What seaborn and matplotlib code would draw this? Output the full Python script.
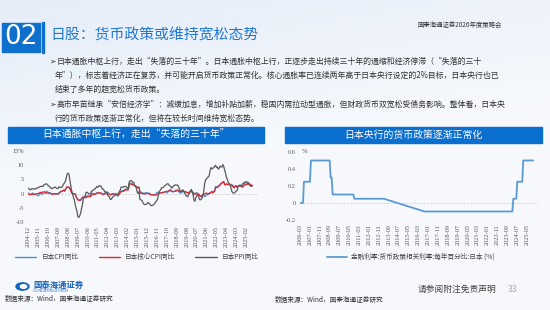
import numpy as np
import pandas as pd
import matplotlib
matplotlib.use('Agg')
import matplotlib.pyplot as plt
from matplotlib.patches import Rectangle, Circle
from matplotlib.lines import Line2D
import seaborn as sns

# ---- data: Japan CPI / core CPI / PPI yoy (%), monthly from 2004-12 ----
cpi = [0.2,
       -0.1, -0.3, -0.2, 0.0, 0.2, -0.5, -0.3, -0.3, -0.3, -0.7, -0.8, -0.4,
       -0.1, -0.1, -0.2, -0.1, 0.1, 0.5, 0.3, 0.9, 0.6, 0.4, 0.3, 0.3,
       0.0, -0.2, -0.1, 0.0, 0.0, -0.2, 0.0, -0.2, -0.2, 0.3, 0.6, 0.7,
       0.7, 1.0, 1.2, 0.8, 1.3, 2.0, 2.3, 2.1, 2.1, 1.7, 1.0, 0.4,
       0.0, -0.1, -0.3, -0.1, -1.1, -1.8, -2.2, -2.2, -2.2, -2.5, -1.9, -1.7,
       -1.3, -1.1, -1.1, -1.2, -0.9, -0.7, -0.9, -0.9, -0.6, 0.2, 0.1, 0.0,
       0.0, 0.0, 0.0, 0.3, 0.3, 0.2, 0.2, 0.2, 0.0, -0.2, -0.5, -0.2,
       0.1, 0.3, 0.5, 0.4, 0.2, -0.2, -0.4, -0.5, -0.3, -0.4, -0.2, -0.1,
       -0.3, -0.7, -0.9, -0.7, -0.3, 0.2, 0.7, 0.9, 1.1, 1.1, 1.5, 1.6,
       1.4, 1.5, 1.6, 3.4, 3.7, 3.6, 3.4, 3.3, 3.2, 2.9, 2.4, 2.4,
       2.4, 2.2, 2.3, 0.6, 0.5, 0.4, 0.2, 0.2, 0.0, 0.3, 0.3, 0.2,
       0.0, 0.3, -0.1, -0.3, -0.5, -0.4, -0.4, -0.5, -0.5, 0.1, 0.5, 0.3,
       0.4, 0.3, 0.2, 0.4, 0.4, 0.4, 0.4, 0.7, 0.7, 0.2, 0.6, 1.0,
       1.4, 1.5, 1.1, 0.6, 0.7, 0.7, 0.9, 1.3, 1.2, 1.4, 0.8, 0.3,
       0.2, 0.2, 0.5, 0.9, 0.7, 0.7, 0.5, 0.3, 0.2, 0.2, 0.5, 0.8,
       0.7, 0.4, 0.4, 0.1, 0.1, 0.1, 0.3, 0.2, 0.0, -0.4, -0.9, -1.2,
       -0.6, -0.4, -0.2, -1.1, -0.8, -0.5, -0.3, -0.4, 0.2, 0.1, 0.6, 0.8,
       0.5, 0.9, 1.2, 2.5, 2.5, 2.4, 2.6, 3.0, 3.0, 3.7, 3.8, 4.0,
       4.3, 3.3, 3.2, 3.5, 3.2, 3.3, 3.3, 3.2, 3.0, 3.3, 2.8, 2.6,
       2.2, 2.8, 2.7, 2.5, 2.8, 2.8, 2.8, 3.0, 2.5, 2.3, 2.9, 3.6,
       4.0, 3.7, 3.6, 3.6, 3.5, 3.3, 3.1, 2.7, 2.9]

core_cpi = [-0.2,
            -0.3, -0.4, -0.3, -0.2, 0.0, -0.2, -0.2, -0.1, -0.1, 0.0, 0.1, 0.1,
            0.5, 0.1, 0.5, 0.5, 0.6, 0.6, 0.2, 0.3, 0.2, 0.1, 0.2, 0.1,
            0.0, -0.1, -0.3, -0.1, -0.1, -0.1, -0.1, -0.1, -0.1, 0.1, 0.4, 0.8,
            0.8, 1.0, 1.2, 0.9, 1.5, 1.9, 2.4, 2.4, 2.3, 1.9, 1.0, 0.2,
            0.0, 0.0, -0.1, -0.1, -1.1, -1.7, -2.2, -2.4, -2.3, -2.2, -1.7, -1.3,
            -1.2, -1.2, -1.2, -1.5, -1.2, -1.0, -1.1, -1.0, -1.1, -0.6, -0.5, -0.4,
            -0.2, -0.3, -0.1, 0.1, 0.3, 0.3, 0.2, 0.2, 0.2, -0.1, -0.2, -0.1,
            -0.1, 0.1, 0.2, 0.2, -0.1, -0.2, -0.3, -0.3, -0.1, 0.0, -0.1, -0.2,
            -0.2, -0.3, -0.5, -0.4, 0.0, 0.4, 0.7, 0.8, 0.7, 0.9, 1.2, 1.3,
            1.3, 1.3, 1.3, 3.2, 3.4, 3.3, 3.3, 3.1, 3.0, 2.9, 2.7, 2.5,
            2.2, 2.0, 2.2, 0.3, 0.1, 0.1, 0.0, -0.1, -0.1, -0.1, 0.1, 0.1,
            0.0, 0.0, -0.3, -0.3, -0.4, -0.4, -0.5, -0.5, -0.5, -0.4, -0.4, -0.2,
            0.1, 0.2, 0.2, 0.3, 0.4, 0.4, 0.5, 0.7, 0.7, 0.8, 0.9, 0.9,
            0.9, 1.0, 0.9, 0.7, 0.7, 0.8, 0.8, 0.9, 1.0, 1.0, 0.9, 0.7,
            0.8, 0.7, 0.8, 0.9, 0.8, 0.6, 0.6, 0.5, 0.3, 0.4, 0.5, 0.7,
            0.8, 0.6, 0.4, -0.2, -0.2, 0.0, 0.0, -0.4, -0.3, -0.7, -0.9, -1.0,
            -0.6, -0.4, -0.1, -0.1, 0.1, 0.2, -0.2, 0.0, 0.1, 0.1, 0.5, 0.5,
            0.2, 0.6, 0.8, 2.1, 2.1, 2.2, 2.4, 2.8, 3.0, 3.6, 3.7, 4.0,
            4.2, 3.1, 3.1, 3.4, 3.2, 3.3, 3.1, 3.1, 2.8, 2.9, 2.5, 2.3,
            2.0, 2.8, 2.6, 2.2, 2.5, 2.6, 2.7, 2.8, 2.4, 2.3, 2.7, 3.0,
            3.2, 3.0, 3.2, 3.5, 3.7, 3.3, 3.1, 2.7, 2.9]

ppi = [1.9,
       1.5, 1.3, 1.6, 1.8, 1.7, 1.5, 1.7, 1.6, 2.0, 2.0, 2.1, 2.3,
       2.5, 2.5, 2.6, 2.5, 3.0, 3.2, 3.4, 3.4, 3.3, 2.8, 2.6, 2.3,
       1.9, 1.7, 1.9, 2.1, 2.2, 2.3, 1.9, 1.8, 1.8, 2.4, 2.3, 2.1,
       2.3, 2.7, 3.4, 3.7, 4.3, 5.4, 7.0, 7.2, 6.8, 4.8, 2.8, 1.1,
       -0.2, -1.4, -2.2, -3.9, -5.1, -6.4, -8.2, -8.4, -7.8, -6.9, -5.2, -3.9,
       -1.8, -1.2, -0.9, 0.4, 0.5, 0.3, -0.1, -0.1, -0.1, 0.9, 0.9, 1.2,
       1.6, 1.7, 2.0, 2.5, 2.2, 2.5, 2.9, 2.6, 2.5, 1.6, 1.6, 1.2,
       0.5, 0.6, 0.6, -0.6, -0.9, -1.1, -2.1, -2.0, -1.5, -1.1, -0.9, -0.6,
       -0.3, -0.1, -0.5, 0.2, 0.7, 1.2, 2.3, 2.3, 2.2, 2.5, 2.5, 2.5,
       2.4, 1.8, 1.7, 4.1, 4.5, 4.6, 4.3, 3.9, 4.0, 2.8, 2.6, 1.9,
       0.3, 0.1, 0.7, -2.1, -2.2, -2.4, -3.0, -3.6, -3.9, -3.8, -3.7, -3.6,
       -3.1, -3.4, -3.8, -4.2, -4.2, -4.2, -3.9, -3.6, -3.2, -2.7, -2.3, -1.2,
       0.5, 1.0, 1.4, 2.1, 2.1, 2.2, 2.6, 2.9, 3.1, 3.4, 3.5, 3.1,
       2.7, 2.6, 2.1, 2.0, 2.7, 2.8, 3.1, 3.0, 3.0, 3.0, 2.3, 1.5,
       0.6, 0.8, 1.3, 1.2, 0.7, -0.1, -0.6, -0.9, -1.1, -0.4, 0.1, 0.9,
       1.5, 0.8, -0.4, -2.3, -2.7, -1.6, -0.8, -0.5, -0.8, -2.1, -2.2, -2.0,
       -1.6, -0.6, 1.2, 3.8, 4.9, 5.2, 5.7, 5.8, 6.5, 8.3, 9.2, 8.7,
       8.9, 9.3, 9.5, 10.0, 9.2, 9.4, 8.6, 9.0, 9.7, 9.4, 9.3, 10.2,
       9.6, 8.3, 7.4, 5.8, 5.1, 4.1, 3.6, 3.3, 2.1, 0.9, 0.3, 0.2,
       0.2, 0.6, 0.9, 1.1, 2.4, 2.8, 3.0, 2.5, 2.8, 3.4, 3.7, 3.8,
       4.2, 4.0, 4.1, 4.0, 3.2, 2.9, 2.6, 2.7, 2.7]

series_names = ['日本CPI同比', '日本核心CPI同比', '日本PPI同比']
series_colors = ['#4a8fd8', '#e3262b', '#5a5a5a']

# ---- data: BOJ policy rate (%), points where the line bends ----
boj_dates = ['2006-03', '2006-06', '2006-07', '2007-01', '2007-02', '2008-09',
             '2008-10', '2008-11', '2008-12', '2010-09', '2010-10', '2013-04',
             '2016-09', '2024-02', '2024-03', '2024-06', '2024-07', '2024-12',
             '2025-01', '2025-11']
boj_rate = [0.0, 0.0, 0.25, 0.25, 0.5, 0.5,
            0.3, 0.3, 0.1, 0.1, 0.05, 0.05,
            -0.1, -0.1, 0.05, 0.05, 0.25, 0.25,
            0.5, 0.5]
boj_name = '金融利率:货币政策相关利率:每年百分比:日本 (%)'

W, H = 550, 310
sns.set_theme(style='white')
plt.rcParams['font.family'] = ['Noto Sans CJK SC', 'DejaVu Sans']
plt.rcParams['axes.unicode_minus'] = False

fig = plt.figure(figsize=(5.5, 3.1), dpi=100)


def fx(x):
    return x / W


def fy(y):
    return 1 - y / H


# background gradient
bg = fig.add_axes([0, 0, 1, 1], zorder=-10)
gx = np.linspace(0, 1, 200)[None, :]
gy = np.linspace(0, 1, 120)[:, None]
top = np.array([0.90, 0.93, 0.975])
base = np.array([0.965, 0.975, 0.99])
mix = np.clip(1 - (gy * 1.6 + gx * 0.5), 0, 1)[..., None]
img = base * (1 - mix) + top * mix
bg.imshow(img, aspect='auto', extent=[0, 1, 0, 1], origin='upper')
bg.axis('off')

# header
fig.patches.append(Rectangle((fx(2), fy(52)), fx(38), 29 / H, transform=fig.transFigure,
                             color='#0f6fcc', zorder=1))
fig.patches.append(Rectangle((fx(42), fy(53)), fx(2), 31 / H, transform=fig.transFigure,
                             color='#0f6fcc', zorder=1))
fig.text(fx(21), fy(37.5), '02', color='white', fontsize=19, ha='center', va='center',
         family='DejaVu Sans')
fig.text(fx(50), fy(36), '日股：货币政策或维持宽松态势', color='#1f78d1', fontsize=10.7,
         ha='left', va='center')
fig.text(fx(502), fy(25), '国泰海通证券2026年度策略会', color='#333333', fontsize=4.6,
         ha='right', va='center')

# bullet text
bullet_font = ['Noto Sans CJK SC', 'DejaVu Sans']
lines = [
    (49, 61, '➢'),
    (57, 61, '日本通胀中枢上行，走出“失落的三十年”。日本通胀中枢上行，正逐步走出持续三十年的通缩和经济停滞（“失落的三十'),
    (55, 75.5, '年”），标志着经济正在复苏，并可能开启货币政策正常化。核心通胀率已连续两年高于日本央行设定的2%目标，日本央行也已'),
    (55, 89.5, '结束了多年的超宽松货币政策。'),
    (49, 104, '➢'),
    (57, 104, '高市早苗继承“安倍经济学”：减缓加息，增加补贴加薪，稳固内需拉动型通胀，但财政货币双宽松受债务影响。整体看，日本央'),
    (55, 118, '行的货币政策逐渐正常化，但将在较长时间维持宽松态势。'),
]
for x, y, s in lines:
    fig.text(fx(x), fy(y), s, color='#333333', fontsize=5.7, ha='left', va='center',
             family=bullet_font)

# chart title bars
for x0, x1, title in [(8, 264, '日本通胀中枢上行，走出“失落的三十年”'),
                      (285, 542, '日本央行的货币政策逐渐正常化')]:
    fig.patches.append(Rectangle((fx(x0), fy(143)), fx(x1 - x0), 16 / H,
                                 transform=fig.transFigure, color='#0b6fd0', zorder=1))
    fig.text(fx((x0 + x1) / 2), fy(135), title, color='white', fontsize=7.1,
             ha='center', va='center')

tick_font = 'Liberation Serif'

# ---- left chart ----
dates_left = pd.date_range('2004-12-01', periods=len(cpi), freq='MS')
df_left = pd.concat([
    pd.DataFrame({'date': dates_left, 'value': vals, 'series': name})
    for name, vals in zip(series_names, [cpi, core_cpi, ppi])
], ignore_index=True)

ax1 = fig.add_axes([fx(28), fy(222), fx(229), 71 / H])
ax1.patch.set_alpha(0)
ax1.axhline(0, color='#c8c8c8', lw=0.6, ls=(0, (2, 2)), zorder=0)
sns.lineplot(data=df_left, x='date', y='value', hue='series', hue_order=series_names,
             palette=series_colors, linewidth=0.9, ax=ax1, legend=False)
ax1.set_xlim(pd.Timestamp('2004-11-15'), pd.Timestamp('2026-02-01'))
ax1.set_ylim(-10, 15)
ax1.set_yticks([-10, -5, 0, 5, 10, 15])
ax1.set_yticklabels(['-10', '-5', '0', '5', '10', '15%'])
left_ticks = pd.date_range('2004-12-01', '2025-03-01', freq='11MS')
ax1.set_xticks(left_ticks)
ax1.set_xticklabels([d.strftime('%Y-%m') for d in left_ticks], rotation=90)

# ---- right chart ----
df_right = pd.DataFrame({'date': pd.to_datetime(boj_dates), 'value': boj_rate})
ax2 = fig.add_axes([fx(300), fy(220), fx(238), 68 / H])
ax2.patch.set_alpha(0)
ax2.axhline(0, color='#c8c8c8', lw=0.6, ls=(0, (2, 2)), zorder=0)
sns.lineplot(data=df_right, x='date', y='value', color='#5b9bd5', linewidth=1.3, ax=ax2)
ax2.set_xlim(pd.Timestamp('2006-03-01'), pd.Timestamp('2026-04-01'))
ax2.set_ylim(-0.2, 0.6)
ax2.set_yticks([-0.2, 0, 0.2, 0.4, 0.6])
ax2.set_yticklabels(['-0.2', '0', '0.2', '0.4', '0.6'])
right_ticks = pd.date_range('2006-03-01', periods=24, freq='10MS')
ax2.set_xticks(right_ticks)
ax2.set_xticklabels([d.strftime('%Y-%m') for d in right_ticks], rotation=90)
fig.text(fx(302), fy(152), '%', color='#595959', fontsize=4.8, ha='left', va='center',
         family=tick_font)

for ax in (ax1, ax2):
    ax.set_xlabel('')
    ax.set_ylabel('')
    for sp in ax.spines.values():
        sp.set_visible(False)
    ax.grid(False)
    ax.tick_params(length=0, labelsize=4.6, colors='#595959', pad=3)
    for lab in ax.get_xticklabels() + ax.get_yticklabels():
        lab.set_family(tick_font)

# legends
h_left = [Line2D([], [], color=c, lw=1.0) for c in series_colors]
fig.legend(h_left, series_names, loc='center', bbox_to_anchor=(fx(137), fy(257)), ncol=3,
           frameon=False, fontsize=4.8, handlelength=3.2, columnspacing=3.0,
           handletextpad=0.8, labelcolor='#444444')
fig.legend([Line2D([], [], color='#5b9bd5', lw=1.3)], [boj_name], loc='center',
           bbox_to_anchor=(fx(411), fy(257)), frameon=False, fontsize=4.8,
           handlelength=3.0, handletextpad=0.6, labelcolor='#444444')

# footer
fig.patches.append(Circle((fx(22.5), fy(286.5)), 6.5 / W, transform=fig.transFigure,
                          color='#1463b8', zorder=2))
fig.patches.append(Circle((fx(23.5), fy(286.5)), 3.2 / W, transform=fig.transFigure,
                          color='white', zorder=3))
fig.text(fx(33), fy(285), '国泰海通证券', color='#1463b8', fontsize=6, fontweight='bold',
         ha='left', va='center')
fig.text(fx(33), fy(290.5), 'GUOTAI HAITONG SECURITIES', color='#1463b8', fontsize=1.8,
         ha='left', va='center')
fig.text(fx(5), fy(299), '数据来源：Wind，国泰海通证券研究', color='#333333', fontsize=4.8,
         ha='left', va='center')
fig.text(fx(275), fy(300), '数据来源：Wind，国泰海通证券研究', color='#333333', fontsize=4.8,
         ha='left', va='center')
fig.text(fx(418), fy(289), '请参阅附注免责声明', color='#444444', fontsize=6.3,
         ha='left', va='center')
fig.text(fx(508), fy(289), '33', color='#aaaaaa', fontsize=6.3, ha='left', va='center')

fig.savefig('out.png', dpi=100)
